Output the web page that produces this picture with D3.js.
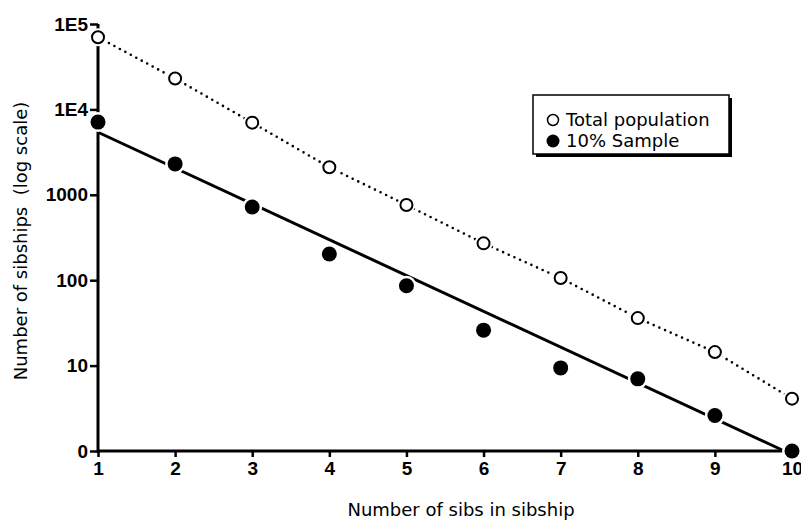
<!DOCTYPE html>
<html>
<head>
<meta charset="utf-8">
<script src="https://cdn.jsdelivr.net/npm/d3@7"></script>
<style>
  body { margin: 0; background: #fff; }
  .title { font-family: "DejaVu Sans", sans-serif; font-size: 18px; fill: #000; }
</style>
</head>
<body>
<div id="chart"></div>
<script>
/* data */
var sibs = [1, 2, 3, 4, 5, 6, 7, 8, 9, 10];
var totalPop = [70000, 23000, 7000, 2100, 760, 270, 106, 36, 14.4, 4.1];
var sample10 = [7100, 2300, 720, 203, 86, 26, 9.4, 7.0, 2.6, 1];
// fitted line for the 10% sample, two end points [sibs, count]
var sampleFit = [[1, 5400], [9.9, 1]];

var yTicks = [1, 10, 100, 1000, 1e4, 1e5];
var yTickLabels = ["0", "10", "100", "1000", "1E4", "1E5"];

var width = 801, height = 523;

var svg = d3.select("#chart").append("svg")
    .attr("width", width)
    .attr("height", height);

var x = d3.scaleLinear().domain([1, 10]).range([98, 792]);
var y = d3.scaleLog().domain([1, 1e5]).range([451, 24]);

/* axes */
var xAxis = d3.axisBottom(x).tickValues(sibs).tickSize(6).tickPadding(5).tickFormat(d3.format("d"));
var yAxis = d3.axisLeft(y).tickValues(yTicks).tickSize(8).tickPadding(2)
    .tickFormat(function (d, i) { return yTickLabels[i]; });

var gx = svg.append("g").attr("transform", "translate(0,451)").call(xAxis);
var gy = svg.append("g").attr("transform", "translate(98,0)").call(yAxis);

[gx, gy].forEach(function (g) {
    g.select(".domain").attr("stroke", "#000").attr("stroke-width", 3);
    g.selectAll(".tick line").attr("stroke", "#000").attr("stroke-width", 2.5);
    g.selectAll(".tick text")
        .style("font-family", "'Liberation Sans', Arial, sans-serif")
        .style("font-weight", "bold")
        .style("font-size", "19px")
        .attr("fill", "#000");
});
gx.select(".domain").attr("d", "M98,0H792");
gy.select(".domain").attr("d", "M0,24V453");

/* lines */
var line = d3.line()
    .x(function (d) { return x(d[0]); })
    .y(function (d) { return y(d[1]); });

svg.append("path")
    .datum(sibs.map(function (s, i) { return [s, totalPop[i]]; }))
    .attr("d", line)
    .attr("fill", "none")
    .attr("stroke", "#000")
    .attr("stroke-width", 2.6)
    .attr("stroke-linecap", "round")
    .attr("stroke-dasharray", "0 6.2");

svg.append("path")
    .datum(sampleFit)
    .attr("d", line)
    .attr("fill", "none")
    .attr("stroke", "#000")
    .attr("stroke-width", 3);

/* white halos round the markers */
var halos = svg.append("g");
sibs.forEach(function (s, i) {
    halos.append("circle").attr("cx", x(s)).attr("cy", y(totalPop[i])).attr("r", 9).attr("fill", "#fff");
    halos.append("circle").attr("cx", x(s)).attr("cy", y(sample10[i])).attr("r", 10).attr("fill", "#fff");
});

/* markers */
svg.append("g").selectAll("circle")
    .data(totalPop)
    .enter().append("circle")
    .attr("cx", function (d, i) { return x(sibs[i]); })
    .attr("cy", function (d) { return y(d); })
    .attr("r", 6)
    .attr("fill", "#fff")
    .attr("stroke", "#000")
    .attr("stroke-width", 2);

svg.append("g").selectAll("circle")
    .data(sample10)
    .enter().append("circle")
    .attr("cx", function (d, i) { return x(sibs[i]); })
    .attr("cy", function (d) { return y(d); })
    .attr("r", 7.5)
    .attr("fill", "#000");

/* titles */
svg.append("text")
    .attr("class", "title")
    .attr("x", 461)
    .attr("y", 516)
    .attr("text-anchor", "middle")
    .text("Number of sibs in sibship");

svg.append("text")
    .attr("class", "title")
    .attr("transform", "translate(27,241) rotate(-90)")
    .attr("text-anchor", "middle")
    .style("white-space", "pre")
    .text("Number of sibships  (log scale)");

/* legend */
var legend = svg.append("g");
legend.append("rect").attr("x", 536).attr("y", 98).attr("width", 196).attr("height", 59).attr("fill", "#000");
legend.append("rect").attr("x", 533).attr("y", 95).attr("width", 196).attr("height", 59)
    .attr("fill", "#fff").attr("stroke", "#000").attr("stroke-width", 1.5);
legend.append("circle").attr("cx", 553).attr("cy", 120).attr("r", 5.5)
    .attr("fill", "#fff").attr("stroke", "#000").attr("stroke-width", 1.5);
legend.append("circle").attr("cx", 553).attr("cy", 141).attr("r", 6.5).attr("fill", "#000");
legend.append("text").attr("class", "title").attr("x", 566).attr("y", 126).text("Total population");
legend.append("text").attr("class", "title").attr("x", 566).attr("y", 147).text("10% Sample");
</script>
</body>
</html>
